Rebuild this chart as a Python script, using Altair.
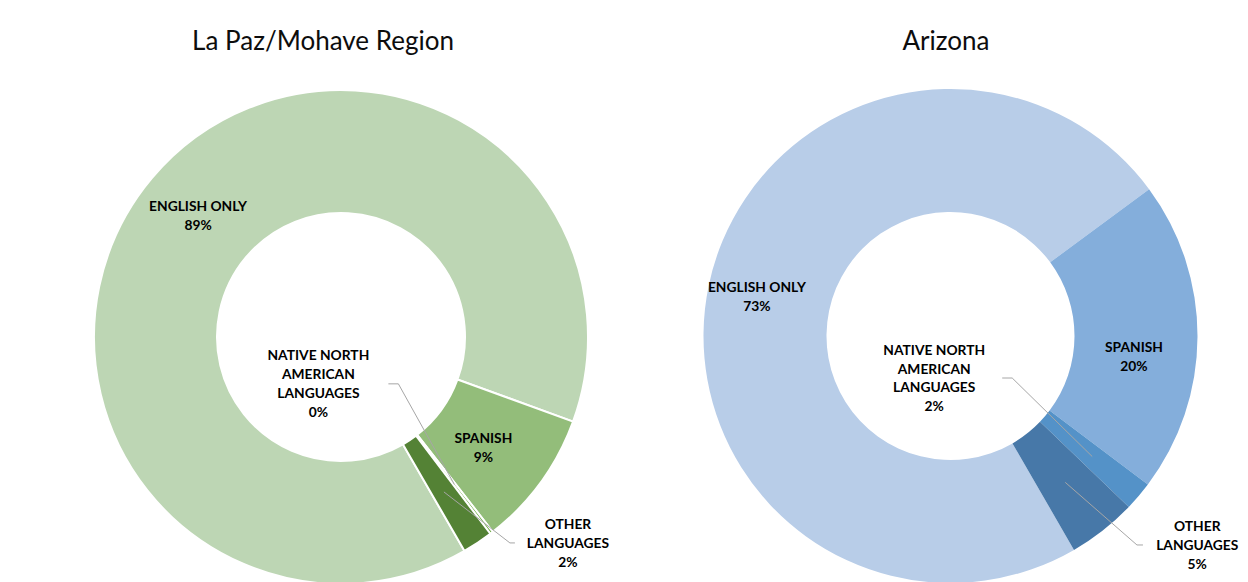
import math
import altair as alt
import pandas as pd

# ---------------- data ----------------
REGIONS = ["La Paz/Mohave Region", "Arizona"]
LANGUAGES = ["ENGLISH ONLY", "SPANISH", "NATIVE NORTH AMERICAN LANGUAGES", "OTHER LANGUAGES"]
LABEL_LINES = ["ENGLISH ONLY", "SPANISH", "NATIVE NORTH\nAMERICAN\nLANGUAGES", "OTHER\nLANGUAGES"]
LAPAZ_PCT = [88.9, 8.9, 0.2, 2.0]
ARIZONA_PCT = [73.2, 20.4, 1.9, 4.5]
LAPAZ_SHOWN = ["89%", "9%", "0%", "2%"]
ARIZONA_SHOWN = ["73%", "20%", "2%", "5%"]

# ---------------- style ----------------
W, H = 1232, 574
CENTER = {"La Paz/Mohave Region": (333, 329), "Arizona": (942.5, 328)}
START_DEG = 150
R_OUT, R_IN, R_LABEL = 247, 124, 186
COLORS = {
    "La Paz/Mohave Region": ["#BDD6B4", "#93BD7A", "#70AD47", "#548235"],
    "Arizona": ["#B8CDE8", "#84AEDB", "#5492C8", "#4778A8"],
}
STROKE = {"La Paz/Mohave Region": 2, "Arizona": 0}
LINE_H = 18.8
LABEL_OFFSET = {
    ("La Paz/Mohave Region", 0): (-0.5, -1),
    ("La Paz/Mohave Region", 1): (-8, 2),
    ("La Paz/Mohave Region", 2): (-136, -100),
    ("La Paz/Mohave Region", 3): (124, 52),
    ("Arizona", 0): (-11.5, -0.5),
    ("Arizona", 1): (-2.5, 20.5),
    ("Arizona", 2): (-158, -77.5),
    ("Arizona", 3): (132, 63.6),
}
# elbow offset from slice midpoint, then horizontal run
LEADERS = {
    ("La Paz/Mohave Region", 2): (-56, -100.6, -10),
    ("La Paz/Mohave Region", 3): (66, 51, 5),
    ("Arizona", 2): (-80, -78.5, -10),
    ("Arizona", 3): (71.7, 62.6, 6),
}
TITLE_DX = {"La Paz/Mohave Region": -18, "Arizona": -4.5}
TITLE_Y = 34
FONT = "Lato"

# ---------------- build tables ----------------
rows = []
for region, pcts, shown in [
    (REGIONS[0], LAPAZ_PCT, LAPAZ_SHOWN),
    (REGIONS[1], ARIZONA_PCT, ARIZONA_SHOWN),
]:
    total = sum(pcts)
    cum = 0.0
    cx, cy = CENTER[region]
    for i, (lang, p) in enumerate(zip(LANGUAGES, pcts)):
        f0 = cum / total
        cum += p
        f1 = cum / total
        rows.append(
            dict(
                region=region,
                idx=i,
                language=lang,
                key=f"{region}|{lang}",
                label=LABEL_LINES[i] + "\n" + shown[i],
                f0=f0,
                f1=f1,
                fm=(f0 + f1) / 2,
                cx=cx,
                cy=cy,
                sw=STROKE[region],
            )
        )
df = pd.DataFrame(rows)

keys = list(df["key"])
colors = [COLORS[r][i] for r, i in zip(df["region"], df["idx"])]

seg = []
for (region, i), (ex, ey, hx) in LEADERS.items():
    r = df[(df.region == region) & (df.idx == i)].iloc[0]
    th = math.radians(START_DEG + 360 * r.fm)
    sx = r.cx + R_LABEL * math.sin(th)
    sy = r.cy - R_LABEL * math.cos(th)
    bx, by = sx + ex, sy + ey
    seg.append(dict(x=sx, y=sy, x2=bx, y2=by))
    seg.append(dict(x=bx, y=by, x2=bx + hx, y2=by))
seg_df = pd.DataFrame(seg)

theta_scale = alt.Scale(
    domain=[0, 1],
    range=[math.radians(START_DEG), math.radians(START_DEG) + 2 * math.pi],
)

base = alt.Chart(df)

arcs = base.mark_arc(outerRadius=R_OUT, innerRadius=R_IN, stroke="white").encode(
    x=alt.X("cx:Q", scale=None),
    y=alt.Y("cy:Q", scale=None),
    theta=alt.Theta("f0:Q", scale=theta_scale, stack=False),
    theta2="f1:Q",
    color=alt.Color("key:N", scale=alt.Scale(domain=keys, range=colors), legend=None),
    strokeWidth=alt.StrokeWidth("sw:Q", scale=None),
)

leaders = alt.Chart(seg_df).mark_rule(color="#A6A6A6", strokeWidth=1).encode(
    x=alt.X("x:Q", scale=None),
    y=alt.Y("y:Q", scale=None),
    x2="x2:Q",
    y2="y2:Q",
)

label_layers = []
for (region, i), (dx, dy) in LABEL_OFFSET.items():
    n_lines = LABEL_LINES[i].count("\n") + 2
    label_layers.append(
        base.transform_filter(
            (alt.datum.region == region) & (alt.datum.idx == i)
        )
        .mark_text(
            font=FONT,
            fontSize=13.8,
            fontWeight="bold",
            color="#000000",
            lineBreak="\n",
            lineHeight=LINE_H,
            align="center",
            baseline="middle",
            dx=dx,
            dy=dy - (n_lines - 1) * LINE_H / 2,
        )
        .encode(
            x=alt.X("cx:Q", scale=None),
            y=alt.Y("cy:Q", scale=None),
            theta=alt.Theta("fm:Q", scale=theta_scale, stack=False),
            radius=alt.value(R_LABEL),
            text="label:N",
        )
    )

title_df = pd.DataFrame(
    [dict(region=r, tx=CENTER[r][0] + TITLE_DX[r], ty=TITLE_Y) for r in REGIONS]
)
titles = alt.Chart(title_df).mark_text(
    font=FONT, fontSize=26, color="#0D0D0D", align="center", baseline="middle"
).encode(
    x=alt.X("tx:Q", scale=None),
    y=alt.Y("ty:Q", scale=None),
    text="region:N",
)

chart = (
    alt.layer(arcs, leaders, *label_layers, titles)
    .properties(
        width=W,
        height=H,
        padding=0,
        autosize=alt.AutoSizeParams(type="none"),
        background="white",
    )
    .configure_view(stroke="transparent")
)

chart.save("out.html", embed_options={"renderer": "svg", "actions": False})
